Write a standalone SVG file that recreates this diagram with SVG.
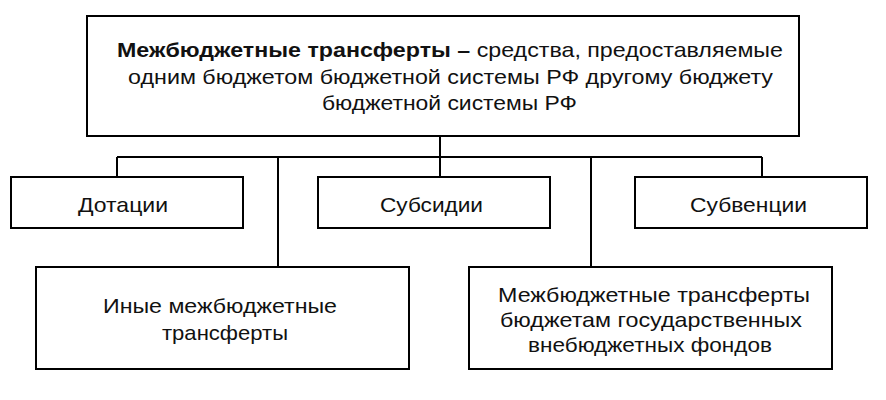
<svg xmlns="http://www.w3.org/2000/svg" width="886" height="400" viewBox="0 0 886 400">
<style>
.box{fill:#fff;stroke:#000;stroke-width:2}
.t{font-family:"Liberation Sans",Arial,sans-serif;font-size:21px;fill:#111}
.b{font-weight:bold}
.c{fill:none;stroke:#000;stroke-width:2}
</style>
<rect width="886" height="400" fill="#fff"/>
<g id="connectors">
<path class="c" d="M440 136V177M117 157H762M117 157V177M278 157V267M591 157V267M762 157V177"/>
</g>
<g id="root">
<rect class="box" x="87" y="16" width="712" height="120"/>
<text class="t" x="117" y="57" textLength="666" lengthAdjust="spacingAndGlyphs"><tspan class="b">Межбюджетные трансферты –</tspan> средства, предоставляемые</text>
<text class="t" x="128" y="84" textLength="645" lengthAdjust="spacingAndGlyphs">одним бюджетом бюджетной системы РФ другому бюджету</text>
<text class="t" x="322" y="110" textLength="255" lengthAdjust="spacingAndGlyphs">бюджетной системы РФ</text>
</g>
<g id="dotacii">
<rect class="box" x="11" y="177" width="232" height="51"/>
<text class="t" x="78" y="212" textLength="90" lengthAdjust="spacingAndGlyphs">Дотации</text>
</g>
<g id="subsidii">
<rect class="box" x="318" y="177" width="232" height="51"/>
<text class="t" x="380" y="212" textLength="103" lengthAdjust="spacingAndGlyphs">Субсидии</text>
</g>
<g id="subvencii">
<rect class="box" x="635" y="177" width="232" height="51"/>
<text class="t" x="690" y="212" textLength="117" lengthAdjust="spacingAndGlyphs">Субвенции</text>
</g>
<g id="inye">
<rect class="box" x="36" y="267" width="373" height="102"/>
<text class="t" x="103" y="313" textLength="234" lengthAdjust="spacingAndGlyphs">Иные межбюджетные</text>
<text class="t" x="162" y="340" textLength="126" lengthAdjust="spacingAndGlyphs">трансферты</text>
</g>
<g id="vnebudzh">
<rect class="box" x="469" y="267" width="363" height="102"/>
<text class="t" x="498" y="302" textLength="312" lengthAdjust="spacingAndGlyphs">Межбюджетные трансферты</text>
<text class="t" x="500" y="327" textLength="302" lengthAdjust="spacingAndGlyphs">бюджетам государственных</text>
<text class="t" x="528" y="352" textLength="244" lengthAdjust="spacingAndGlyphs">внебюджетных фондов</text>
</g>
</svg>
